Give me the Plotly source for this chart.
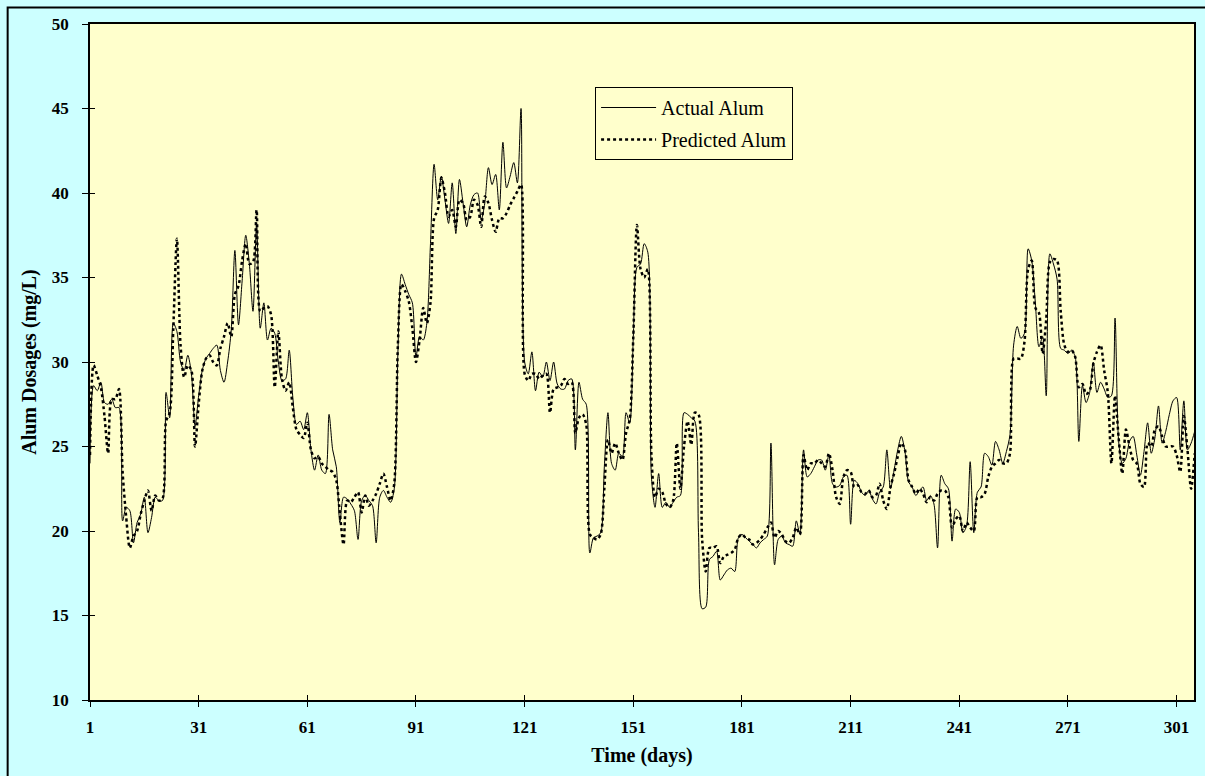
import plotly.graph_objects as go

days = list(range(1, 307))

actual_alum = [
    24.0, 28.6, 28.3, 28.8, 27.6, 27.5, 27.8, 27.3, 27.3, 20.6,
    21.4, 21.2, 19.3, 20.5, 21.0, 22.0, 19.9, 20.8, 22.0, 21.8,
    21.8, 28.2, 26.7, 32.3, 31.8, 30.0, 29.5, 30.4, 29.3, 26.2,
    28.0, 29.5, 30.2, 30.5, 30.8, 31.0, 29.5, 28.8, 30.0, 31.9,
    36.6, 32.2, 34.8, 37.5, 35.8, 33.0, 38.2, 32.0, 33.5, 31.3,
    32.0, 31.7, 30.0, 28.9, 29.0, 30.7, 27.9, 26.3, 26.5, 26.0,
    27.0, 24.8, 23.6, 24.5, 23.6, 23.4, 26.9, 24.8, 23.8, 20.5,
    22.0, 21.9, 21.6, 21.2, 19.5, 21.8, 22.1, 21.8, 21.5, 19.3,
    22.0, 22.4, 22.0, 21.7, 22.5, 30.5, 35.2, 34.6, 34.0, 33.5,
    30.3, 31.5, 31.3, 32.3, 37.0, 41.7, 39.6, 41.0, 39.6, 38.2,
    40.6, 37.6, 40.8, 39.4, 38.0, 39.3, 39.9, 40.0, 38.4, 39.4,
    41.5, 40.5, 41.1, 39.0, 43.0, 40.3, 41.0, 41.8, 40.6, 45.0,
    30.0, 29.3, 30.6, 28.3, 29.4, 29.1, 30.0, 28.9, 30.0, 28.7,
    28.4, 28.4, 28.9, 29.0, 24.8, 28.8, 27.8, 27.5, 18.7, 19.6,
    19.7, 19.9, 23.8, 27.0, 24.0, 23.6, 24.6, 24.4, 27.0, 26.4,
    31.5, 35.6, 35.8, 37.0, 36.5, 23.2, 21.4, 23.4, 21.4, 21.7,
    21.4, 21.7, 22.0, 22.1, 27.0, 26.9, 26.7, 26.5, 19.9, 15.4,
    15.5, 18.3, 18.5, 18.8, 17.1, 17.4, 17.7, 17.8, 17.6, 19.6,
    19.8, 19.6, 19.4, 19.2, 19.0, 19.3, 19.5, 19.7, 25.2, 18.0,
    19.5, 19.7, 19.3, 19.2, 19.1, 20.6, 19.8, 24.8, 23.2, 23.4,
    23.8, 24.2, 24.2, 23.6, 24.5, 22.8, 22.6, 22.7, 23.2, 23.3,
    20.4, 23.0, 22.8, 22.3, 22.1, 22.4, 21.9, 21.6, 22.3, 22.6,
    24.8, 22.5, 23.6, 24.8, 25.6, 24.7, 22.9, 22.6, 22.1, 22.4,
    22.6, 21.8, 22.1, 21.6, 19.0, 23.3, 22.8, 22.5, 19.4, 21.3,
    21.1, 19.9, 20.3, 24.1, 19.9, 22.3, 22.6, 24.6, 24.4, 23.9,
    25.3, 24.8, 24.0, 24.7, 25.7, 31.0, 32.1, 31.4, 31.7, 36.7,
    36.0, 33.5, 30.9, 31.5, 28.0, 36.4, 35.8, 34.9, 30.8, 30.7,
    30.5, 30.7, 30.3, 25.3, 28.6, 27.6, 28.2, 30.0, 28.2, 28.8,
    28.4, 27.9, 28.0, 32.6, 25.3, 24.0, 24.3, 25.3, 25.6, 24.5,
    23.3, 24.7, 26.4, 24.6, 25.5, 27.4, 25.2, 25.9, 26.9, 27.7,
    27.9, 24.8, 27.7, 24.8, 25.2, 25.9,
]

predicted_alum = [
    24.5, 29.8, 29.2, 28.5, 26.8, 24.6, 27.8, 27.8, 28.4, 23.5,
    20.8, 19.0, 19.7, 20.0, 21.0, 21.8, 22.4, 21.2, 22.1, 21.8,
    21.9, 26.5, 27.0, 32.0, 37.3, 31.0, 29.1, 29.8, 29.5, 25.0,
    27.5, 29.5, 30.2, 30.4, 30.0, 29.8, 30.8, 31.5, 32.3, 31.5,
    34.0, 34.5, 36.0, 37.0, 35.8, 35.9, 39.0, 33.0, 33.2, 33.3,
    32.8, 28.5, 31.8, 29.0, 28.3, 28.8, 27.3, 26.0, 25.7, 25.5,
    26.4, 24.8, 24.3, 24.4, 24.0, 23.8, 23.6, 23.5, 23.0, 21.0,
    19.2, 21.8, 21.7, 22.0, 22.3, 21.1, 22.1, 21.5, 21.8, 22.2,
    22.8, 23.4, 22.6, 21.8, 22.8, 31.0, 34.6, 34.2, 33.6, 32.0,
    30.0, 31.3, 33.2, 32.3, 33.5, 38.5, 39.0, 40.9, 40.0, 38.6,
    39.0, 38.0, 39.6, 39.4, 38.4, 38.6, 39.6, 39.3, 38.0, 39.8,
    39.4, 38.4, 37.7, 38.5, 38.5, 38.8, 39.3, 39.7, 40.1, 40.5,
    29.3, 28.9, 29.3, 29.3, 29.0, 29.2, 29.3, 27.0, 28.4, 28.5,
    28.6, 29.0, 28.7, 28.8, 25.8, 26.7, 26.9, 26.3, 19.8, 19.6,
    19.5, 19.8, 22.5, 25.4, 24.6, 25.2, 24.6, 24.2, 25.8, 26.6,
    31.5, 38.1, 35.5, 35.0, 35.5, 24.5, 22.0, 22.5, 22.3, 21.6,
    21.4, 21.8, 25.2, 22.5, 25.0, 26.5, 25.1, 27.0, 26.9, 19.5,
    17.6, 19.0, 19.0, 19.1, 18.1, 18.5, 18.6, 18.7, 18.9, 19.6,
    19.8, 19.6, 19.5, 19.2, 19.3, 19.5, 19.8, 20.2, 20.5, 19.6,
    20.0, 19.8, 19.4, 19.3, 19.6, 20.2, 19.8, 24.5, 23.6, 24.0,
    24.0, 24.2, 24.0, 23.8, 24.6, 23.6, 22.0, 21.6, 23.2, 23.6,
    23.5, 22.6, 22.7, 22.3, 22.2, 22.4, 22.0, 22.1, 22.8, 21.8,
    21.3, 22.6, 23.4, 24.4, 25.2, 24.8, 23.0, 22.6, 22.2, 22.5,
    22.2, 21.7, 22.0, 21.8, 22.2, 22.4, 22.4, 22.0, 20.2, 20.7,
    20.9, 20.0, 20.5, 20.2, 20.0, 22.0, 22.0, 22.2, 23.2, 23.8,
    24.0, 24.2, 24.0, 24.0, 24.6, 30.2, 30.2, 30.2, 31.2, 35.5,
    36.0, 33.2, 32.9, 30.5, 32.5, 35.9, 36.1, 36.0, 33.0, 31.0,
    30.6, 30.7, 30.3, 28.5, 28.7, 28.1, 28.3, 29.9, 30.6, 31.0,
    29.5, 28.2, 24.0, 28.0, 25.5, 23.4, 26.0, 25.0, 24.2, 24.0,
    22.8, 22.6, 25.2, 25.0, 26.0, 26.2, 25.6, 25.0, 25.0, 25.0,
    24.5, 23.5, 26.8, 24.8, 22.5, 24.6,
]

x_ticks = [1, 31, 61, 91, 121, 151, 181, 211, 241, 271, 301]
y_ticks = [10, 15, 20, 25, 30, 35, 40, 45, 50]

FONT = "Liberation Serif, Times New Roman, serif"

fig = go.Figure()
fig.add_trace(go.Scatter(
    x=days, y=actual_alum, name="Actual Alum", mode="lines", legendgroup="a",
    line=dict(color="black", width=1, shape="spline", smoothing=0.8),
))
fig.add_trace(go.Scatter(
    x=days, y=predicted_alum, name="Predicted Alum", mode="lines", legendgroup="p",
    line=dict(color="black", width=2.5, dash="dot", shape="spline", smoothing=0.8),
))

x_range = [1, 305.8]
y_range = [10, 50]

W, H = 1205, 776
L, R, T, B = 90, 9, 24, 76

fig.update_layout(
    width=W, height=H,
    margin=dict(l=L, r=R, t=T, b=B),
    paper_bgcolor="#CCFFFF",
    plot_bgcolor="#FFFFCC",
    font=dict(family=FONT, color="black"),
    showlegend=True,
    legend=dict(
        x=(596 - L) / (W - L - R), y=(H - B - 87) / (H - T - B),
        xanchor="left", yanchor="top",
        bgcolor="#FFFFCC", bordercolor="black", borderwidth=1,
        font=dict(family=FONT, size=20, color="black"),
        traceorder="grouped", tracegroupgap=3, itemwidth=55,
    ),
    xaxis=dict(
        range=x_range, tickvals=x_ticks, ticks="outside", ticklen=5,
        tickcolor="black", showgrid=False, zeroline=False,
        showline=True, linecolor="black", linewidth=1.5, mirror=True,
        tickfont=dict(family=FONT, size=17, color="black", weight="bold"),
        ticklabelstandoff=6,
        title=dict(text="<b>Time (days)</b>", font=dict(family=FONT, size=20), standoff=12),
    ),
    yaxis=dict(
        range=y_range, tickvals=y_ticks, ticks="outside", ticklen=6,
        tickcolor="black", showgrid=False, zeroline=False,
        showline=True, linecolor="black", linewidth=1.5, mirror=True,
        tickfont=dict(family=FONT, size=17, color="black", weight="bold"),
        ticklabelstandoff=10,
        title=dict(text="<b>Alum Dosages (mg/L)</b>", font=dict(family=FONT, size=20), standoff=10),
    ),
    xaxis2=dict(
        range=x_range, tickvals=x_ticks, ticks="inside", ticklen=5,
        tickcolor="black", showticklabels=False, showgrid=False, zeroline=False,
        overlaying="x", side="bottom", showline=False,
    ),
    yaxis2=dict(
        range=y_range, tickvals=y_ticks, ticks="inside", ticklen=5,
        tickcolor="black", showticklabels=False, showgrid=False, zeroline=False,
        overlaying="y", side="left", showline=False,
    ),
)

fig.add_trace(go.Scatter(x=[None], y=[None], xaxis="x2", yaxis="y2",
                         showlegend=False, hoverinfo="skip"))

# outer chart border (left and top edges visible, right/bottom run off the page)
pw, ph = W - L - R, H - T - B
fig.add_shape(type="rect", xref="paper", yref="paper",
              x0=(7.5 - L) / pw, x1=(W + 20 - L) / pw,
              y0=(H - B - (H + 20)) / ph, y1=(H - B - 7.5) / ph,
              line=dict(color="black", width=2), fillcolor="rgba(0,0,0,0)",
              layer="below")

fig.write_html(
    "out.html",
    config={"displayModeBar": False},
    post_script="document.body.style.margin='0';document.body.style.overflow='hidden';",
)
